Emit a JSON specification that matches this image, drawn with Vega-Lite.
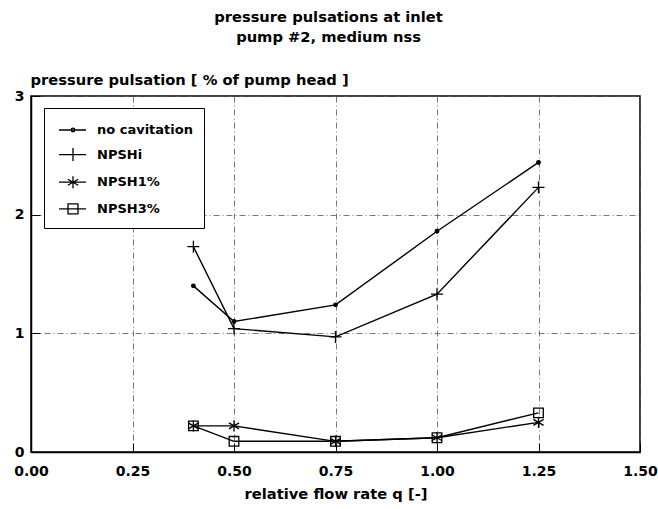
{
  "$schema": "https://vega.github.io/schema/vega-lite/v6.json",
  "autosize": "none",
  "width": 609,
  "height": 356,
  "padding": {"left": 31, "top": 96, "right": 18, "bottom": 57},
  "background": "white",
  "config": {
    "font": "DejaVu Sans",
    "view": {"stroke": "black", "strokeWidth": 1.5},
    "axis": {
      "domainColor": "black",
      "domainWidth": 1.5,
      "tickColor": "black",
      "tickWidth": 1,
      "tickSize": -9,
      "labelFont": "DejaVu Sans",
      "labelFontWeight": "bold",
      "labelFontSize": 14,
      "labelColor": "black",
      "titleFont": "DejaVu Sans",
      "titleFontWeight": "bold",
      "titleFontSize": 14.7,
      "titleColor": "black",
      "grid": true,
      "gridColor": "#555555",
      "gridWidth": 0.8,
      "gridDash": [6, 3, 1, 3]
    }
  },
  "title": {
    "text": ["pressure pulsations at inlet", "pump #2, medium nss"],
    "font": "DejaVu Sans",
    "fontSize": 14.7,
    "fontWeight": "bold",
    "color": "black",
    "lineHeight": 19.5,
    "anchor": "middle",
    "frame": "group",
    "dx": -7,
    "offset": 27.5
  },
  "data": {
    "values": [
      {"q": 0.4, "p": 1.40, "series": "no cavitation"},
      {"q": 0.5, "p": 1.10, "series": "no cavitation"},
      {"q": 0.75, "p": 1.24, "series": "no cavitation"},
      {"q": 1.0, "p": 1.86, "series": "no cavitation"},
      {"q": 1.25, "p": 2.44, "series": "no cavitation"},
      {"q": 0.4, "p": 1.73, "series": "NPSHi"},
      {"q": 0.5, "p": 1.04, "series": "NPSHi"},
      {"q": 0.75, "p": 0.97, "series": "NPSHi"},
      {"q": 1.0, "p": 1.33, "series": "NPSHi"},
      {"q": 1.25, "p": 2.23, "series": "NPSHi"},
      {"q": 0.4, "p": 0.22, "series": "NPSH1%"},
      {"q": 0.5, "p": 0.22, "series": "NPSH1%"},
      {"q": 0.75, "p": 0.09, "series": "NPSH1%"},
      {"q": 1.0, "p": 0.12, "series": "NPSH1%"},
      {"q": 1.25, "p": 0.25, "series": "NPSH1%"},
      {"q": 0.4, "p": 0.22, "series": "NPSH3%"},
      {"q": 0.5, "p": 0.09, "series": "NPSH3%"},
      {"q": 0.75, "p": 0.09, "series": "NPSH3%"},
      {"q": 1.0, "p": 0.12, "series": "NPSH3%"},
      {"q": 1.25, "p": 0.33, "series": "NPSH3%"}
    ]
  },
  "encoding": {
    "x": {
      "field": "q",
      "type": "quantitative",
      "scale": {"domain": [0, 1.5], "nice": false, "zero": false},
      "axis": {
        "values": [0, 0.25, 0.5, 0.75, 1.0, 1.25, 1.5],
        "format": ".2f",
        "title": "relative flow rate q [-]",
        "labelPadding": 21,
        "titlePadding": 8,
        "labelFlush": false
      }
    },
    "y": {
      "field": "p",
      "type": "quantitative",
      "scale": {"domain": [0, 3], "nice": false},
      "axis": {
        "values": [0, 1, 2, 3],
        "format": "d",
        "title": "pressure pulsation [ % of pump head ]",
        "titleAngle": 0,
        "titleAlign": "left",
        "titleBaseline": "alphabetic",
        "titleX": -1,
        "titleY": -12,
        "labelPadding": 16,
        "labelFlush": false
      }
    }
  },
  "layer": [
    {
      "mark": {"type": "line", "color": "black", "strokeWidth": 1.4},
      "encoding": {"detail": {"field": "series"}}
    },
    {
      "mark": {"type": "point", "filled": false, "color": "black", "strokeWidth": 1.3, "size": 144, "opacity": 1},
      "encoding": {
        "shape": {
          "field": "series",
          "type": "nominal",
          "scale": {
            "domain": ["no cavitation", "NPSHi", "NPSH1%", "NPSH3%"],
            "range": [
              "M-0.3,0A0.3,0.3 0 1,0 0.3,0A0.3,0.3 0 1,0 -0.3,0ZM-0.12,0A0.12,0.12 0 1,0 0.12,0A0.12,0.12 0 1,0 -0.12,0Z",
              "M-1,0H1M0,-1V1",
              "M0,-0.95V0.95M-0.85,-0.5L0.85,0.5M-0.85,0.5L0.85,-0.5",
              "M-0.8,-0.8H0.8V0.8H-0.8Z"
            ]
          },
          "legend": null
        }
      }
    },
    {
      "mark": {"type": "point", "filled": false, "color": "black", "strokeWidth": 1.3, "opacity": 0},
      "encoding": {
        "shape": {
          "field": "series",
          "type": "nominal",
          "scale": {
            "domain": ["no cavitation", "NPSHi", "NPSH1%", "NPSH3%"],
            "range": [
              "M-0.7,0H2M0.52,0A0.18,0.18 0 1,0 0.88,0A0.18,0.18 0 1,0 0.52,0Z",
              "M-0.7,0H2M0.7,-0.65V0.65",
              "M-0.7,0H2M0.7,-0.6V0.6M0.18,-0.3L1.22,0.3M0.18,0.3L1.22,-0.3",
              "M-0.7,0H2M0.2,-0.5H1.2V0.5H0.2Z"
            ]
          },
          "legend": {
            "title": null,
            "orient": "none",
            "legendX": 13,
            "legendY": 12,
            "padding": 11,
            "rowPadding": 6.6,
            "symbolSize": 400,
            "symbolStrokeColor": "black",
            "symbolStrokeWidth": 1.3,
            "symbolFillColor": "transparent",
            "symbolOpacity": 1,
            "labelOffset": 20,
            "labelFont": "DejaVu Sans",
            "labelFontWeight": "bold",
            "labelFontSize": 13,
            "labelColor": "black",
            "labelExpr": "datum.label + '\u00a0\u00a0\u00a0\u00a0\u00a0'",
            "strokeColor": "black",
            "fillColor": "white",
            "encode": {"legend": {"update": {"strokeWidth": {"value": 1.5}}}}
          }
        }
      }
    }
  ],
  "resolve": {"scale": {"shape": "independent"}}
}
